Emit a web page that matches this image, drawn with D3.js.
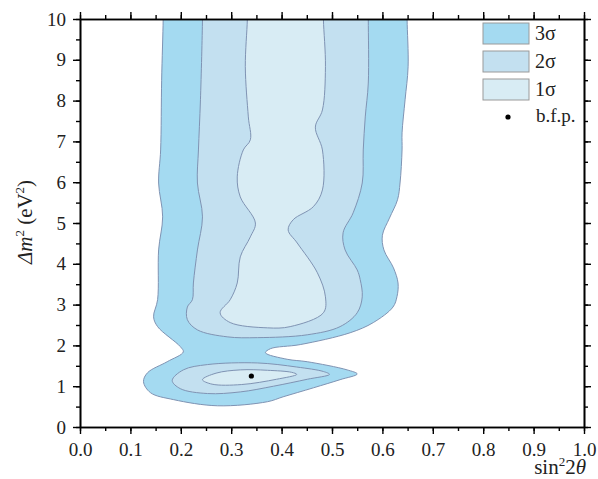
<!DOCTYPE html>
<html>
<head>
<meta charset="utf-8">
<script src="https://cdn.jsdelivr.net/npm/d3@7"></script>
<style>
body { margin: 0; background: #fff; }
text { font-family: "Liberation Serif", "Times New Roman", serif; }
</style>
</head>
<body>
<div id="app"></div>
<script>
// contour data, [sin^2 2theta, dm^2]
var sigma3 = [[0.165,10.3],[0.165,9.98],[0.162,8.5],[0.160,6.79],[0.156,5.98],[0.164,5.15],[0.156,4.34],
  [0.154,3.12],[0.146,2.70],[0.154,2.46],[0.199,1.97],[0.205,1.84],[0.173,1.60],[0.134,1.33],[0.126,1.11],
  [0.140,0.84],[0.186,0.67],[0.273,0.52],[0.372,0.62],[0.403,0.74],[0.463,0.96],[0.516,1.16],[0.550,1.30],
  [0.530,1.40],[0.451,1.60],[0.411,1.66],[0.368,1.82],[0.378,1.92],[0.437,2.02],[0.536,2.31],[0.582,2.56],
  [0.621,2.94],[0.629,3.20],[0.631,3.53],[0.622,3.90],[0.603,4.34],[0.600,4.70],[0.614,5.12],[0.630,5.57],
  [0.635,5.98],[0.639,6.79],[0.639,7.21],[0.645,8.02],[0.651,8.83],[0.649,9.98],[0.649,10.3]];
var sigma2Upper = [[0.243,10.3],[0.243,9.98],[0.239,8.02],[0.235,6.79],[0.233,5.98],[0.243,5.15],[0.233,4.34],
  [0.225,3.53],[0.223,3.12],[0.213,2.94],[0.213,2.63],[0.233,2.38],[0.292,2.21],[0.352,2.19],[0.451,2.26],
  [0.516,2.46],[0.550,2.80],[0.560,3.19],[0.556,3.61],[0.550,3.85],[0.526,4.34],[0.522,4.76],[0.542,5.25],
  [0.560,5.98],[0.562,6.79],[0.566,7.60],[0.572,8.43],[0.572,9.98],[0.572,10.3]];
var sigma2Lower = [[0.183,1.14],[0.205,1.40],[0.253,1.53],[0.352,1.57],[0.430,1.47],[0.483,1.36],[0.495,1.29],
  [0.451,1.17],[0.384,1.00],[0.318,0.86],[0.253,0.82],[0.199,0.94]];
var sigma1Upper = [[0.332,10.3],[0.332,9.98],[0.328,8.83],[0.334,7.60],[0.338,7.04],[0.324,6.79],[0.312,6.13],
  [0.318,5.64],[0.348,5.00],[0.338,4.66],[0.318,4.17],[0.312,3.53],[0.298,3.12],[0.278,2.80],[0.298,2.56],
  [0.372,2.43],[0.417,2.46],[0.483,2.80],[0.487,3.19],[0.471,3.78],[0.431,4.51],[0.413,4.83],[0.423,5.08],
  [0.463,5.40],[0.481,5.81],[0.481,6.79],[0.467,7.35],[0.481,7.77],[0.487,8.83],[0.483,9.98],[0.483,10.3]];
var sigma1Lower = [[0.243,1.16],[0.270,1.32],[0.318,1.40],[0.372,1.39],[0.420,1.34],[0.430,1.29],[0.390,1.17],
  [0.320,1.04],[0.262,1.05]];
var bestFit = [0.34, 1.25];

var legendLabels = ["3σ", "2σ", "1σ"];
var xTickValues = [0, 0.1, 0.2, 0.3, 0.4, 0.5, 0.6, 0.7, 0.8, 0.9, 1.0];
var xTickLabels = ["0.0", "0.1", "0.2", "0.3", "0.4", "0.5", "0.6", "0.7", "0.8", "0.9", "1.0"];
var yTickValues = [0, 1, 2, 3, 4, 5, 6, 7, 8, 9, 10];
var yTickLabels = ["0", "1", "2", "3", "4", "5", "6", "7", "8", "9", "10"];

var colors = {"3σ": "#a4daf1", "2σ": "#c3e0f0", "1σ": "#d8ecf4"};
var lineColor = "#7f93b3";

var width = 598, height = 479;
var mLeft = 80, mRight = 584, mTop = 19, mBottom = 427;

var svg = d3.select("#app").append("svg").attr("width", width).attr("height", height);
var x = d3.scaleLinear().domain([0, 1]).range([mLeft, mRight]);
var y = d3.scaleLinear().domain([0, 10]).range([mBottom, mTop]);

svg.append("clipPath").attr("id", "plot").append("rect")
  .attr("x", mLeft).attr("y", mTop).attr("width", mRight - mLeft).attr("height", mBottom - mTop);

var g = svg.append("g").attr("clip-path", "url(#plot)");

var openLine = d3.line().x(function(d) { return x(d[0]); }).y(function(d) { return y(d[1]); })
  .curve(d3.curveCatmullRom.alpha(0.5));
var closedLine = d3.line().x(function(d) { return x(d[0]); }).y(function(d) { return y(d[1]); })
  .curve(d3.curveCatmullRomClosed.alpha(0.5));

function band(data, level) {
  g.append("path").attr("d", openLine(data) + "Z")
    .attr("fill", colors[level]).attr("stroke", lineColor).attr("stroke-width", 1);
}
function island(data, level) {
  g.append("path").attr("d", closedLine(data))
    .attr("fill", colors[level]).attr("stroke", lineColor).attr("stroke-width", 1);
}
band(sigma3, "3σ");
band(sigma2Upper, "2σ");
island(sigma2Lower, "2σ");
band(sigma1Upper, "1σ");
island(sigma1Lower, "1σ");

g.append("circle").attr("cx", x(bestFit[0])).attr("cy", y(bestFit[1])).attr("r", 2.6).attr("fill", "#000");

// axes: minor ticks every half step, major ticks labelled on bottom/left only
var xMinor = d3.range(0, 1.001, 0.05), yMinor = d3.range(0, 10.01, 0.5);
function styleAxis(sel) {
  sel.selectAll("path.domain").attr("stroke", "#000").attr("stroke-width", 1.6);
  sel.selectAll(".tick line").attr("stroke", "#000").attr("stroke-width", 1.4);
  sel.selectAll("text").attr("font-family", "Liberation Serif, serif").attr("font-size", 19).attr("fill", "#222");
}
var fmtX = function(d, i) { return xTickLabels[i]; };
var fmtY = function(d, i) { return yTickLabels[i]; };

function drawAxis(maker, scale, transform, major, minor, fmt, pad) {
  svg.append("g").attr("transform", transform)
    .call(maker(scale).tickValues(minor).tickSize(4).tickSizeOuter(0).tickFormat(""))
    .call(styleAxis);
  svg.append("g").attr("transform", transform)
    .call(maker(scale).tickValues(major).tickSize(7).tickSizeOuter(0).tickPadding(pad)
      .tickFormat(fmt ? fmt : function() { return ""; }))
    .call(styleAxis);
}
drawAxis(d3.axisBottom, x, "translate(0," + mBottom + ")", xTickValues, xMinor, fmtX, 9);
drawAxis(d3.axisTop, x, "translate(0," + mTop + ")", xTickValues, xMinor, null, 3);
drawAxis(d3.axisLeft, y, "translate(" + mLeft + ",0)", yTickValues, yMinor, fmtY, 7);
drawAxis(d3.axisRight, y, "translate(" + mRight + ",0)", yTickValues, yMinor, null, 3);

// axis titles
var xt = svg.append("text").attr("x", mRight + 2).attr("y", 474).attr("text-anchor", "end")
  .attr("font-size", 21).attr("fill", "#222");
xt.append("tspan").text("sin");
xt.append("tspan").attr("dy", -8).attr("font-size", 13).text("2");
xt.append("tspan").attr("dy", 8).text("2");
xt.append("tspan").attr("font-style", "italic").text("θ");

var yt = svg.append("text").attr("transform", "translate(32,222) rotate(-90)").attr("text-anchor", "middle")
  .attr("font-size", 21).attr("fill", "#222");
yt.append("tspan").attr("font-style", "italic").text("Δm");
yt.append("tspan").attr("dy", -8).attr("font-size", 13).text("2");
yt.append("tspan").attr("dy", 8).text(" (eV");
yt.append("tspan").attr("dy", -8).attr("font-size", 13).text("2");
yt.append("tspan").attr("dy", 8).text(")");

// legend
var lg = svg.append("g").attr("transform", "translate(483,23)");
legendLabels.forEach(function(lab, i) {
  lg.append("rect").attr("x", 0).attr("y", i * 28).attr("width", 46).attr("height", 21)
    .attr("fill", colors[lab]).attr("stroke", "#9a9a9a").attr("stroke-width", 1);
  lg.append("text").attr("x", 52).attr("y", i * 28 + 17).attr("font-size", 20).attr("fill", "#222").text(lab);
});
lg.append("circle").attr("cx", 25).attr("cy", 94).attr("r", 2.6).attr("fill", "#000");
lg.append("text").attr("x", 53).attr("y", 99).attr("font-size", 19).attr("fill", "#222").text("b.f.p.");
</script>
</body>
</html>
